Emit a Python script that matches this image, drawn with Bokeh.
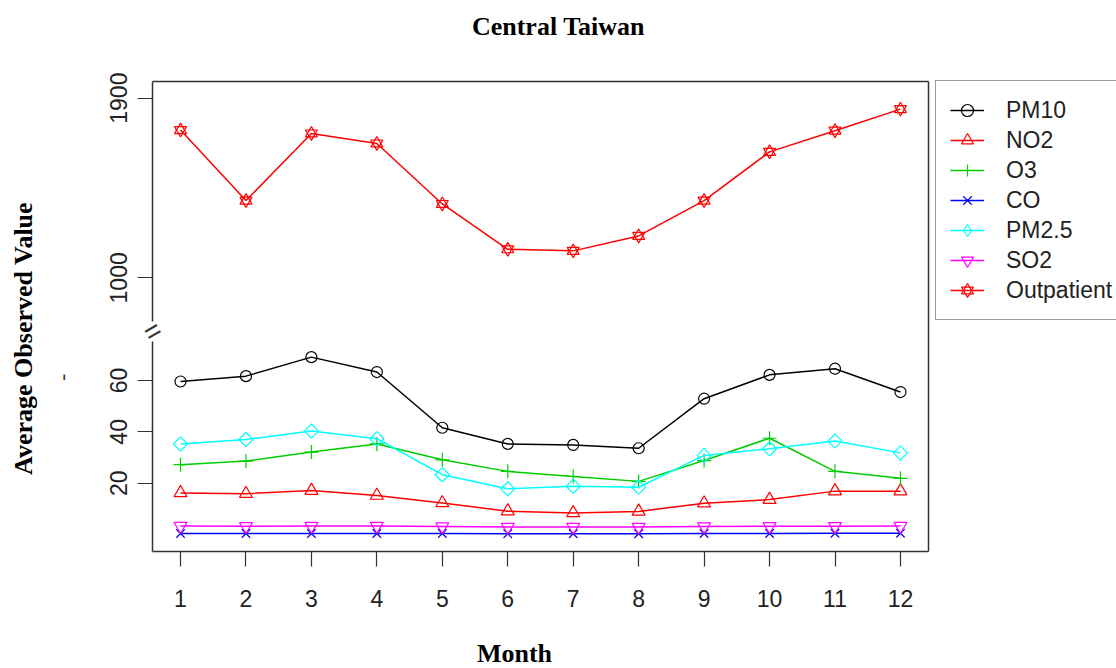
import math
from bokeh.plotting import figure
from bokeh.models import Range1d, FixedTicker, LinearAxis, Legend, LegendItem, Label
from bokeh.embed import file_html
from bokeh.resources import INLINE

# ---------------- data ----------------
months = [1, 2, 3, 4, 5, 6, 7, 8, 9, 10, 11, 12]
pm10 = [59.6, 61.7, 69.1, 63.3, 41.6, 35.3, 34.9, 33.6, 52.9, 62.2, 64.6, 55.5]
no2 = [16.2, 15.9, 17.1, 15.2, 12.3, 9.1, 8.4, 9.0, 12.2, 13.6, 16.9, 16.9]
o3 = [27.2, 28.6, 32.1, 35.3, 29.1, 24.6, 22.6, 20.7, 28.8, 37.5, 24.6, 21.9]
co = [0.4, 0.4, 0.4, 0.4, 0.4, 0.3, 0.3, 0.3, 0.4, 0.4, 0.5, 0.5]
pm25 = [35.3, 37.0, 40.3, 37.3, 23.3, 17.8, 18.8, 18.4, 30.8, 33.4, 36.4, 31.8]
so2 = [3.3, 3.2, 3.3, 3.3, 3.1, 2.9, 2.9, 2.9, 3.1, 3.2, 3.2, 3.3]
outpatient = [1740, 1387, 1723, 1673, 1370, 1143, 1135, 1210, 1387, 1631, 1737, 1845]

series_names = ["PM10", "NO2", "O3", "CO", "PM2.5", "SO2", "Outpatient"]
lower_ticks = [20, 40, 60]
upper_ticks = [1000, 1900]

title_text = "Central Taiwan"
x_title = "Month"
y_title = "Average Observed Value"

# broken (gap) y axis: upper segment is placed above the lower one
UPPER_BASE = 1000
UPPER_POS = 100
UPPER_SCALE = 70.0 / 900.0


def gap(v):
    return UPPER_POS + (v - UPPER_BASE) * UPPER_SCALE


outpatient_d = [gap(v) for v in outpatient]
upper_tick_pos = [int(round(gap(v))) for v in upper_ticks]

# plot box (data units) and axis break
X0, X1 = 0.572, 12.428
Y0, Y1 = -6.5, 176.6
GAP_LO, GAP_HI = 75.2, 83.0

# ---------------- figure (frame fills the whole canvas) ----------------
p = figure(width=1116, height=668,
           x_range=Range1d(-1.7504, 15.301), y_range=Range1d(-52.20, 208.04),
           output_backend="svg", toolbar_location=None,
           x_axis_type=None, y_axis_type=None,
           min_border_left=0, min_border_right=0,
           min_border_top=0, min_border_bottom=0)
p.title.visible = False
p.outline_line_color = None
p.xgrid.visible = False
p.ygrid.visible = False
p.background_fill_color = "white"
p.border_fill_color = "white"

AX = "#333333"


def make_axis(side, fixed, bounds, ticks=(), **kw):
    ax = LinearAxis(fixed_location=fixed, bounds=bounds, ticker=FixedTicker(ticks=list(ticks)), **kw)
    ax.axis_line_color = AX
    ax.axis_line_width = 1.5
    ax.major_tick_line_color = AX
    ax.major_tick_line_width = 1.2
    ax.major_tick_out = 15 if ticks else 0
    ax.major_tick_in = 0
    ax.minor_tick_line_color = None
    ax.major_label_text_font = "Liberation Sans"
    ax.major_label_text_font_size = "23px"
    ax.major_label_text_color = "#222222"
    p.add_layout(ax, side)
    return ax


xa = make_axis("below", Y0, (X0, X1), months)
xa.major_label_standoff = 24
make_axis("above", Y1, (X0, X1))
make_axis("right", X1, (Y0, Y1))
ya = make_axis("left", X0, (Y0, GAP_LO), lower_ticks)
ya.major_label_orientation = "vertical"
ya.major_label_standoff = 10
overrides = {pos: str(v) for pos, v in zip(upper_tick_pos, upper_ticks)}
yb = make_axis("left", X0, (GAP_HI, Y1), upper_tick_pos, major_label_overrides=overrides)
yb.major_label_orientation = "vertical"
yb.major_label_standoff = 10

# break mark on the y axis
p.add_layout(Label(x=X0, y=79.2, text="=", text_font="Liberation Sans",
                   text_font_size="28px", text_color=AX,
                   text_align="center", text_baseline="middle", angle=math.pi / 6))


# ---------------- titles ----------------
def add_text(x, y, text, size="26px", style="bold", angle=0.0, color="black"):
    p.add_layout(Label(x=x, y=y, text=text, text_font="Liberation Serif",
                       text_font_style=style, text_font_size=size, text_color=color,
                       text_align="center", text_baseline="middle", angle=angle))


add_text(6.775, 197.9, title_text)
add_text(6.103, -46.2, x_title)
add_text(-1.399, 76.4, y_title, angle=math.pi / 2)
add_text(-0.818, 61.2, "-", size="22px", style="normal", angle=math.pi / 2, color=AX)

# ---------------- series ----------------
items = []


def add_series(name, y, color, markers, legend_marker=None):
    line = p.line(months, y, line_color=color, line_width=1.5)
    rends = [line]
    for m in markers:
        kw = dict(marker=m[0], size=m[1], line_color=color, fill_color=None, line_width=1.2)
        if len(m) > 2:
            kw["angle"] = m[2]
        r = p.scatter(months, y, **kw)
        if legend_marker is None:
            rends.append(r)
    if legend_marker is not None:
        # legend-only proxy glyph (no visible points)
        rends.append(p.scatter(months, [float("nan")] * len(months), marker=legend_marker,
                               size=12, line_color=color, fill_color=None, line_width=1.2))
    items.append(LegendItem(label=name, renderers=rends))


add_series(series_names[0], pm10, "black", [("circle", 11)])
add_series(series_names[1], no2, "#FF0000", [("triangle", 13)])
add_series(series_names[2], o3, "#00CD00", [("cross", 14)])
add_series(series_names[3], co, "#0000FF", [("x", 12)])
add_series(series_names[4], pm25, "#00FFFF", [("square", 10, math.pi / 4)], legend_marker="diamond")
add_series(series_names[5], so2, "#FF00FF", [("inverted_triangle", 13)])
add_series(series_names[6], outpatient_d, "#FF0000", [("triangle", 12), ("inverted_triangle", 12)])

legend = Legend(items=items, location=(935, 348),
                border_line_color=AX, border_line_width=1.5,
                background_fill_color="white", background_fill_alpha=1.0,
                padding=14, spacing=0, margin=0,
                glyph_width=34, glyph_height=30, label_height=30,
                label_standoff=22,
                label_text_font="Liberation Sans", label_text_font_size="23px",
                label_text_color="#222222")
p.add_layout(legend)

open("out.html", "w").write(file_html(p, INLINE))
